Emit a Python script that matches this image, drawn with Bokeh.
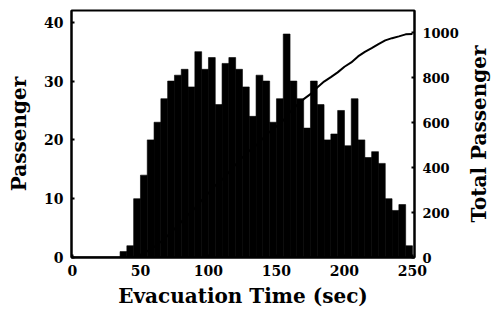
import numpy as np
from bokeh.plotting import figure
from bokeh.layouts import row
from bokeh.models import Range1d, LinearAxis, FixedTicker, ColumnDataSource
from bokeh.embed import file_html
from bokeh.resources import INLINE

# Histogram bins: 5-second bins (left edges), passengers per bin
bin_start = list(range(35, 250, 5))
passengers = [1, 2, 10, 14, 20, 23, 27, 30, 31, 32,
              29, 35, 32, 34, 26, 33, 34, 32, 29, 24,
              31, 30, 23, 27, 38, 30, 27, 22, 30, 26,
              20, 21, 25, 19, 27, 20, 17, 18, 16, 10,
              8, 9, 2]
bin_width = 5

x_ticks = [0, 50, 100, 150, 200, 250]
left_ticks = [0, 10, 20, 30, 40]
right_ticks = [0, 200, 400, 600, 800, 1000]

FONT = "DejaVu Serif"

centers = [s + bin_width / 2 for s in bin_start]
cum = np.cumsum(passengers)
line_x = [0, bin_start[0]] + [s + bin_width for s in bin_start]
line_y = [0, 0] + list(cum)

p = figure(width=461, height=322, output_backend="svg", toolbar_location=None,
           x_range=Range1d(-0.7, 251.5), y_range=Range1d(0, 42),
           min_border_left=71, min_border_right=44, min_border_top=10, min_border_bottom=65)
p.extra_y_ranges = {"total": Range1d(0, 1098)}

src = ColumnDataSource(dict(x=centers, top=passengers))
p.vbar(x="x", top="top", width=bin_width, source=src, fill_color="black",
       line_color="black", line_width=0.6)
p.line(line_x, line_y, y_range_name="total", line_color="black", line_width=2)

p.xgrid.visible = False
p.ygrid.visible = False
p.outline_line_color = "black"
p.outline_line_width = 2
p.background_fill_color = "white"
p.border_fill_color = "white"

right = LinearAxis(y_range_name="total")
p.add_layout(right, "right")

p.xaxis.axis_label = "Evacuation Time (sec)"
p.yaxis[0].axis_label = "Passenger"

p.xaxis.ticker = FixedTicker(ticks=x_ticks)
p.yaxis[0].ticker = FixedTicker(ticks=left_ticks)
right.ticker = FixedTicker(ticks=right_ticks)

def style(ax):
    ax.axis_line_color = "black"
    ax.axis_line_width = 2
    ax.major_tick_in = 3
    ax.major_tick_out = 0
    ax.major_tick_line_width = 2
    ax.minor_tick_line_color = None
    ax.major_label_text_font = FONT
    ax.major_label_text_font_style = "bold"
    ax.major_label_text_font_size = "14px"
    ax.major_label_text_color = "black"
    ax.axis_label_text_font = FONT
    ax.axis_label_text_font_style = "bold"
    ax.axis_label_text_font_size = "20px"
    ax.axis_label_text_color = "black"

for ax in [p.xaxis[0], p.yaxis[0], right]:
    style(ax)

right.major_label_text_font_size = "13px"

p.xaxis.major_label_standoff = 7
p.xaxis.axis_label_standoff = 5
p.yaxis[0].major_label_standoff = 8
p.yaxis[0].axis_label_standoff = 10
right.major_label_standoff = 8

# Narrow companion figure that carries the right-hand title (reads bottom-to-top)
q = figure(width=30, height=322, output_backend="svg", toolbar_location=None,
           x_range=Range1d(0, 1), y_range=Range1d(0, 1),
           min_border_left=29, min_border_right=0, min_border_top=10, min_border_bottom=65)
q.xaxis.visible = False
q.xgrid.visible = False
q.ygrid.visible = False
q.outline_line_color = None
q.background_fill_color = "white"
q.border_fill_color = "white"
qa = q.yaxis[0]
style(qa)
qa.axis_label = "Total Passenger"
qa.ticker = FixedTicker(ticks=[])
qa.axis_line_color = None
qa.major_tick_line_color = None
qa.axis_label_standoff = 0

layout = row(p, q, spacing=0)
open("out.html", "w").write(file_html(layout, INLINE))
